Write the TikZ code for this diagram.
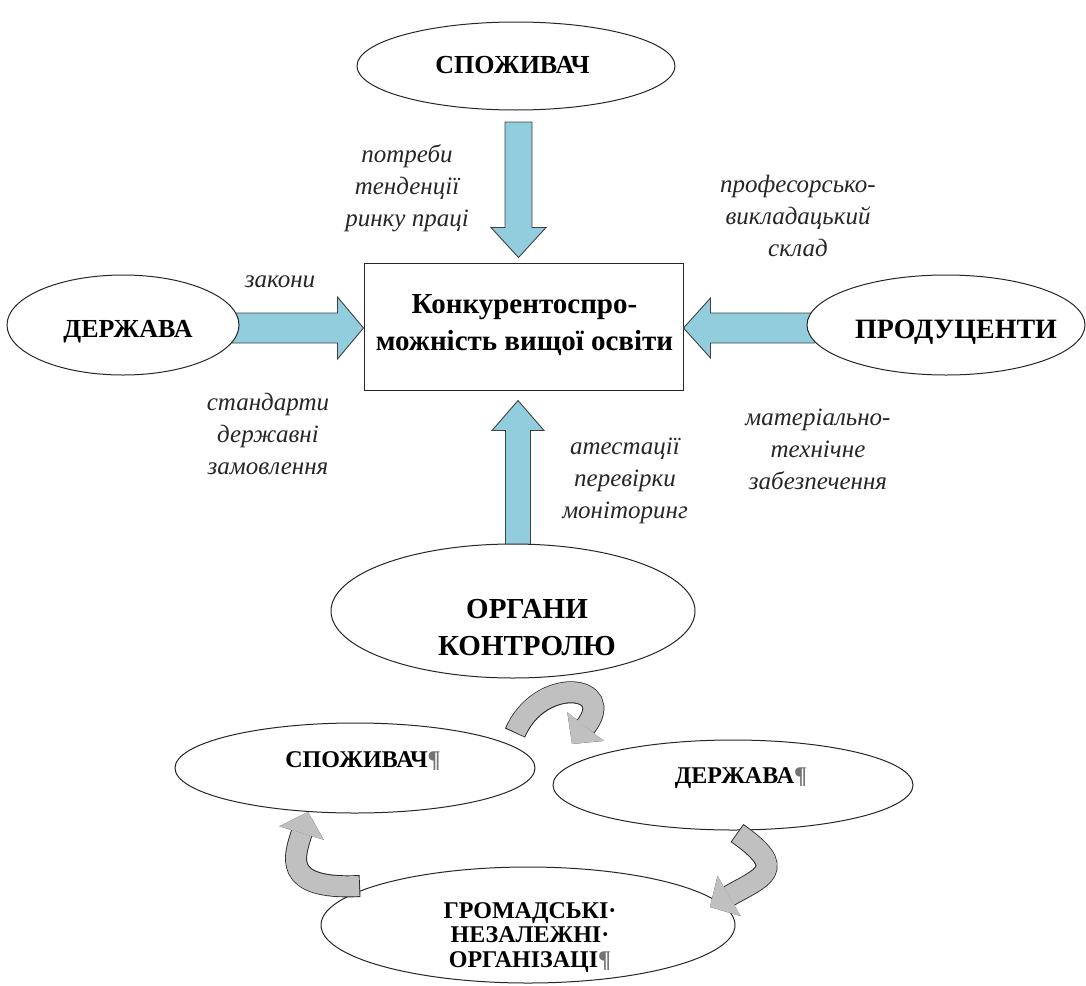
\documentclass[tikz,border=0pt]{standalone}
\usepackage{fontspec}
\setmainfont{Liberation Serif}
\usetikzlibrary{shapes.geometric,arrows.meta,calc}
\definecolor{ablue}{RGB}{146,205,221}
\definecolor{agray}{RGB}{192,192,192}
\begin{document}
\begin{tikzpicture}[x=1pt,y=-1pt,
  ell/.style={ellipse, draw=black!85, line width=1pt, fill=white, inner sep=0pt},
  boxst/.style={rectangle, draw=black!85, line width=1pt, fill=white, inner sep=0pt, minimum width=319pt, minimum height=127pt},
  capbig/.style={font=\bfseries\fontsize{26}{37}\selectfont, inner sep=0pt, anchor=base, align=center},
  capsmall/.style={font=\bfseries\fontsize{24}{24.5}\selectfont, inner sep=0pt, anchor=base, align=center},
  lbl/.style={font=\itshape\fontsize{25}{32}\selectfont, inner sep=0pt, anchor=base, align=center, text=black!85},
  barrow/.style={draw=black!75, line width=0.9pt, fill=ablue, line join=miter},
  gout/.style={draw=black!85, line width=22pt, -{Triangle[width=46pt,length=22pt,fill=agray,line width=1.6pt]}},
  gin/.style={draw=agray, line width=20.2pt, shorten <=0.9pt, -{Triangle[width=46pt,length=22pt,fill=agray,color=agray,line width=0.1pt]}}
]
\useasboundingbox (0,0) rectangle (1086,985);

% central box
\node[boxst] (box) at (523.5,326.5) {};

% blue block arrows (drawn under the ellipses)
\coordinate (dtip) at ($(box.north)+(-5,-5)$);
\draw[barrow] ($(dtip|-516,110)+(-13.5,12)$) -- ($(dtip)+(-13.5,-30)$) -- ($(dtip)+(-27.5,-30)$) -- (dtip)
  -- ($(dtip)+(27.5,-30)$) -- ($(dtip)+(13.5,-30)$) -- ($(dtip|-516,110)+(13.5,12)$) -- cycle;

\coordinate (utip) at ($(box.south)+(-5.5,10)$);
\draw[barrow] ($(utip|-513,545)+(-12.5,3)$) -- ($(utip)+(-12.5,30)$) -- ($(utip)+(-26,30)$) -- (utip)
  -- ($(utip)+(26,30)$) -- ($(utip)+(12.5,30)$) -- ($(utip|-513,545)+(12.5,3)$) -- cycle;

\coordinate (ltip) at ($(box.west)+(0,1.5)$);
\draw[barrow] ($(239,0|-ltip)+(-8,-15)$) -- ($(ltip)+(-26,-15)$) -- ($(ltip)+(-26,-31)$) -- (ltip)
  -- ($(ltip)+(-26,31)$) -- ($(ltip)+(-26,15)$) -- ($(239,0|-ltip)+(-8,15)$) -- cycle;

\coordinate (rtip) at ($(box.east)+(0,1.5)$);
\draw[barrow] ($(807,0|-rtip)+(8,-15)$) -- ($(rtip)+(27,-15)$) -- ($(rtip)+(27,-30)$) -- (rtip)
  -- ($(rtip)+(27,30)$) -- ($(rtip)+(27,15)$) -- ($(807,0|-rtip)+(8,15)$) -- cycle;

% ellipses
\node[ell, minimum width=318pt, minimum height=88pt] (sp) at (516,66) {};
\node[ell, minimum width=232pt, minimum height=100pt] (dl) at (123,325) {};
\node[ell, minimum width=278pt, minimum height=100pt] (pr) at (946,325) {};
\node[ell, minimum width=364pt, minimum height=134pt] (org) at (513,611) {};
\node[ell, minimum width=360pt, minimum height=90pt] (sc) at (355,768) {};
\node[ell, minimum width=360pt, minimum height=90pt] (dr) at (733,785) {};
\node[ell, minimum width=414pt, minimum height=116pt] (gr) at (528,925) {};

% bold texts (anchor = baseline of the last line)
\node[capbig] (spt) at (512.5,73) {СПОЖИВАЧ};
\node[capbig] (dlt) at (128,337) {ДЕРЖАВА};
\node[capbig, font=\bfseries\fontsize{28}{37}\selectfont] (prt) at (956,338) {ПРОДУЦЕНТИ};
\node[capbig, font=\bfseries\fontsize{29}{37}\selectfont] (boxt) at (524.5,350) {Конкурентоспро-\\можність вищої освіти};
\node[capbig, font=\bfseries\fontsize{29}{37}\selectfont] (orgt) at (527,655) {ОРГАНИ\\КОНТРОЛЮ};
\node[capsmall] (sct) at (363,767) {СПОЖИВАЧ\textcolor{black!55}{¶}};
\node[capsmall] (drt) at (741,783) {ДЕРЖАВА\textcolor{black!55}{¶}};
\node[capsmall] (grt) at (530,967) {ГРОМАДСЬКІ·\\НЕЗАЛЕЖНІ·\\ОРГАНІЗАЦІ\textcolor{black!55}{¶}};

% italic labels
\node[lbl] (l1) at (407,226) {потреби\\тенденції\\ринку праці};
\node[lbl] (l2) at (798,256) {професорсько-\\викладацький\\склад};
\node[lbl] (l3) at (280,287) {закони};
\node[lbl] (l4) at (268,474) {стандарти\\державні\\замовлення};
\node[lbl] (l5) at (625,518) {атестації\\перевірки\\моніторинг};
\node[lbl] (l6) at (818,489) {матеріально-\\технічне\\забезпечення};

% grey curved arrows
\coordinate (a1s) at (515,733);
\coordinate (a1e) at (572,744);
\coordinate (a2s) at (737,833);
\coordinate (a2e) at (710,907);
\coordinate (a3s) at (360,886);
\coordinate (a3e) at (308,812);
\draw[gout] (a1s) .. controls (540,675) and (618.5,684.5) .. (a1e);
\draw[gin]  (a1s) .. controls (540,675) and (618.5,684.5) .. (a1e);
\draw[gout] (a2s) .. controls (790,870) and (762,877) .. (a2e);
\draw[gin]  (a2s) .. controls (790,870) and (762,877) .. (a2e);
\draw[gout] (a3s) .. controls (280,890) and (295,855) .. (a3e);
\draw[gin]  (a3s) .. controls (280,890) and (295,855) .. (a3e);
\end{tikzpicture}
\end{document}
